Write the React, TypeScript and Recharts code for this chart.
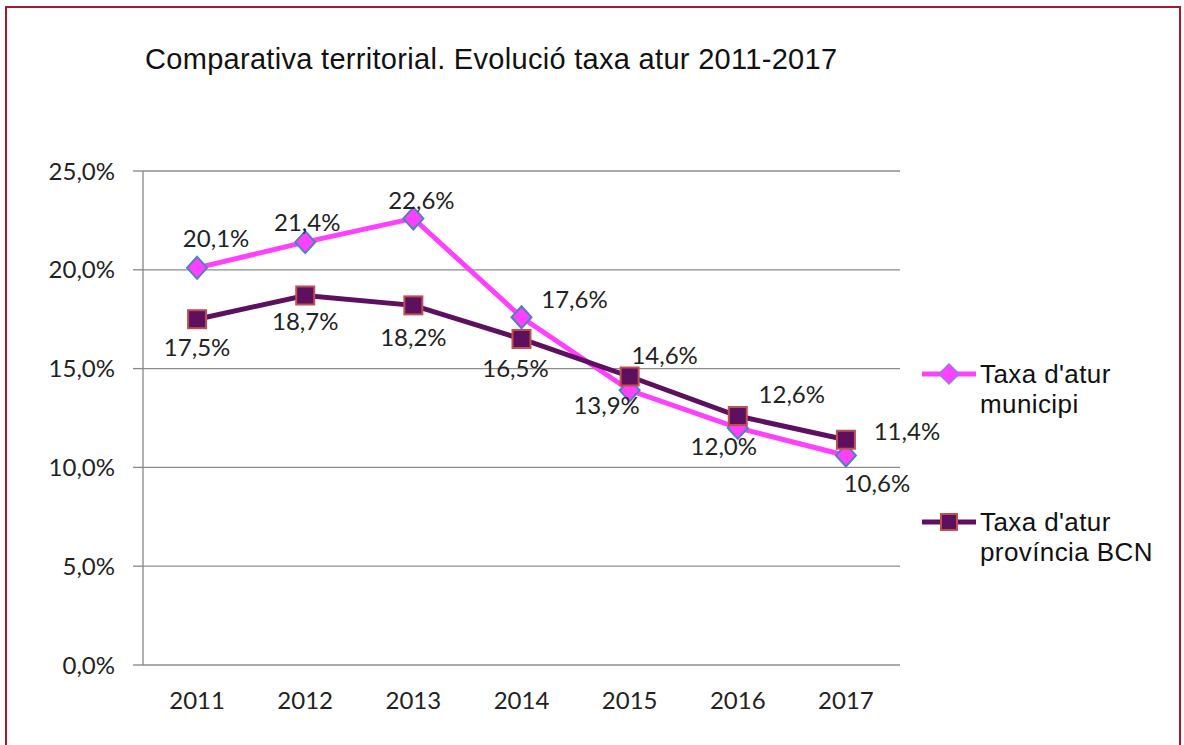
import React from "react";
import { LineChart, Line, XAxis, YAxis, CartesianGrid, LabelList } from "recharts";

const years = ["2011", "2012", "2013", "2014", "2015", "2016", "2017"];
const municipi = [20.1, 21.4, 22.6, 17.6, 13.9, 12.0, 10.6];
const provincia = [17.5, 18.7, 18.2, 16.5, 14.6, 12.6, 11.4];
const yTicks = [0, 5, 10, 15, 20, 25];
const boundaryTicks = [0, 1, 2, 3, 4, 5, 6, 7];

const data = years.map((y, i) => ({ year: y, idx: i + 0.5, municipi: municipi[i], provincia: provincia[i] }));

// label nudges (dx, dy) from each point, per series
const muniOffsets = [[19, -30], [2, -21], [8, -19], [53, -19], [-23, 14], [-14, 18], [31, 27]];
const provOffsets = [[0, 27], [0, 25], [0, 31], [-6, 29], [35, -22], [54, -23], [61, -9]];

const PINK = "#FF40FF";
const PURPLE = "#5E1060";
const LABEL_FONT = "Lato, 'Open Sans', sans-serif";
const TEXT_FONT = "'Liberation Sans', Arial, sans-serif";

const fmt = (v: number) => v.toFixed(1).replace(".", ",") + "%";

const Diamond = ({ cx, cy }: any) => (
  <polygon
    points={`${cx},${cy - 11} ${cx + 10},${cy} ${cx},${cy + 11} ${cx - 10},${cy}`}
    fill={PINK}
    stroke="#4F81BD"
    strokeWidth={2}
  />
);

const Square = ({ cx, cy }: any) => (
  <rect x={cx - 9} y={cy - 9} width={18} height={18} fill={PURPLE} stroke="#C0504D" strokeWidth={2} />
);

const makeLabel = (offsets: number[][]) => (props: any) => {
  const { x, y, value, index } = props;
  const [dx, dy] = offsets[index] || [0, 0];
  return (
    <text
      x={x + dx}
      y={y + dy}
      textAnchor="middle"
      dominantBaseline="central"
      fontFamily={LABEL_FONT}
      fontSize={24}
      fill="#222"
    >
      {fmt(value)}
    </text>
  );
};

const LegendBox = () => (
  <div style={{ fontFamily: TEXT_FONT, fontSize: 26, letterSpacing: 0.4, color: "#111", lineHeight: "30px" }}>
    {[
      { name: ["Taxa d'atur", "municipi"], color: PINK, marker: "d" },
      { name: ["Taxa d'atur", "província BCN"], color: PURPLE, marker: "s" },
    ].map((it, i) => (
      <div key={i} style={{ display: "flex", alignItems: "flex-start", marginBottom: i === 0 ? 88 : 0 }}>
        <svg width={62} height={30} style={{ flex: "none" }}>
          <line x1={4} y1={15} x2={58} y2={15} stroke={it.color} strokeWidth={5} />
          {it.marker === "d" ? (
            <polygon points="31,5 41,15 31,25 21,15" fill={PINK} stroke="#8E7CF0" strokeWidth={1.5} />
          ) : (
            <rect x={23} y={7} width={16} height={16} fill={PURPLE} stroke="#C0504D" strokeWidth={2} />
          )}
        </svg>
        <div>
          {it.name.map((n) => (
            <div key={n}>{n}</div>
          ))}
        </div>
      </div>
    ))}
  </div>
);

export default function App() {
  return (
    <div style={{ position: "absolute", left: 0, top: 0, width: 1184, height: 745, background: "#fff", overflow: "hidden" }}>
      <div
        style={{
          position: "absolute",
          left: 5,
          top: 6,
          width: 1172,
          height: 760,
          border: "2px solid #A6192E",
        }}
      />
      <div
        style={{
          position: "absolute",
          left: 145,
          top: 43,
          fontFamily: TEXT_FONT,
          fontSize: 29,
          letterSpacing: 0.3,
          color: "#111",
          whiteSpace: "nowrap",
        }}
      >
        Comparativa territorial. Evolució taxa atur 2011-2017
      </div>
      <div style={{ position: "absolute", left: 0, top: 0 }}>
        <LineChart width={1184} height={745} data={data} margin={{ top: 171, right: 284, left: 0, bottom: 40 }}>
          <CartesianGrid vertical={false} stroke="#8C8C8C" strokeWidth={1.3} />
          <XAxis
            xAxisId="b"
            type="number"
            dataKey="idx"
            domain={[0, 7]}
            ticks={boundaryTicks}
            tick={false}
            tickSize={8}
            height={0}
            stroke="#868686"
            strokeWidth={1.3}
          />
          <XAxis
            dataKey="year"
            scale="band"
            axisLine={false}
            tickLine={false}
            tickSize={0}
            tickMargin={27}
            height={40}
            tick={{ fill: "#222", fontSize: 24, fontFamily: LABEL_FONT }}
          />
          <YAxis
            domain={[0, 25]}
            ticks={yTicks}
            width={143}
            tickSize={10}
            tickMargin={18}
            stroke="#868686"
            strokeWidth={1.3}
            tickFormatter={fmt}
            tick={{ fill: "#222", fontSize: 24, fontFamily: LABEL_FONT }}
          />
          <Line
            dataKey="municipi"
            stroke={PINK}
            strokeWidth={5}
            dot={<Diamond />}
            activeDot={false}
            isAnimationActive={false}
          >
            <LabelList dataKey="municipi" content={makeLabel(muniOffsets)} />
          </Line>
          <Line
            dataKey="provincia"
            stroke={PURPLE}
            strokeWidth={5}
            dot={<Square />}
            activeDot={false}
            isAnimationActive={false}
          >
            <LabelList dataKey="provincia" content={makeLabel(provOffsets)} />
          </Line>
        </LineChart>
      </div>
      <div style={{ position: "absolute", left: 918, top: 359, width: 262 }}>
        <LegendBox />
      </div>
    </div>
  );
}
